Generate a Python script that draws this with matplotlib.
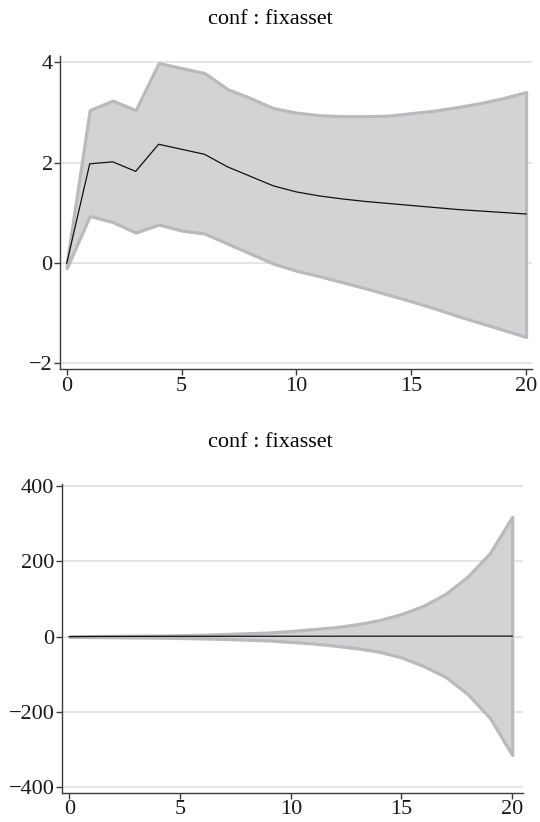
import matplotlib
matplotlib.use("Agg")
import matplotlib.pyplot as plt

steps = list(range(21))

# Panel 1: conf : fixasset (IRF with CI)
irf1 = [0.00, 1.98, 2.02, 1.83, 2.37, 2.27, 2.17, 1.92, 1.73, 1.54, 1.42,
        1.34, 1.28, 1.23, 1.19, 1.15, 1.11, 1.07, 1.04, 1.01, 0.98]
upper1 = [0.00, 3.05, 3.24, 3.05, 3.99, 3.89, 3.79, 3.47, 3.29, 3.09, 3.00,
          2.95, 2.93, 2.93, 2.94, 2.99, 3.04, 3.11, 3.19, 3.29, 3.41]
lower1 = [-0.10, 0.94, 0.82, 0.61, 0.77, 0.65, 0.59, 0.39, 0.19, -0.01, -0.15,
          -0.26, -0.38, -0.50, -0.63, -0.76, -0.90, -1.05, -1.19, -1.33, -1.47]

# Panel 2: conf : fixasset (cumulative-type IRF with CI)
irf2 = [0.0, 0.5, 0.7, 0.8, 0.9, 1.0, 1.0, 1.1, 1.1, 1.2, 1.2,
        1.2, 1.3, 1.3, 1.3, 1.4, 1.4, 1.4, 1.5, 1.5, 1.5]
upper2 = [0.0, 1.5, 2.0, 2.5, 3.0, 4.0, 5.0, 7.0, 9.0, 11.0, 15.0,
          20.0, 25.0, 33.0, 44.0, 60.0, 82.0, 114.0, 160.0, 222.0, 318.0]
lower2 = [0.0, -1.0, -1.5, -2.0, -2.5, -3.5, -4.5, -6.0, -8.0, -10.0, -14.0,
          -18.0, -24.0, -31.0, -40.0, -55.0, -78.0, -107.0, -153.0, -216.0, -314.0]

titles = ["conf : fixasset", "conf : fixasset"]
xticks = [0, 5, 10, 15, 20]
yticks1 = [-2, 0, 2, 4]
yticks2 = [-400, -200, 0, 200, 400]

plt.rcParams['font.family'] = ['Liberation Serif', 'DejaVu Serif']

fig = plt.figure(figsize=(5.4, 8.22), dpi=100)

FILL = '#d2d3d5'
EDGE = '#b9babd'
GRID = '#dedede'
SPINE = '#3c3c3c'
FS = 16


def style(ax, yticks, xlim, ylim):
    ax.set_xlim(*xlim)
    ax.set_ylim(*ylim)
    ax.set_xticks(xticks)
    ax.set_yticks(yticks)
    ax.set_yticklabels([str(v).replace('-', '\u2212') for v in yticks])
    for s in ['top', 'right']:
        ax.spines[s].set_visible(False)
    for s in ['left', 'bottom']:
        ax.spines[s].set_color(SPINE)
        ax.spines[s].set_linewidth(1.0)
    ax.tick_params(axis='both', direction='out', length=4, width=1.0,
                   color=SPINE, labelsize=FS, pad=1.5, labelcolor='#1a1a1a')
    ax.yaxis.grid(True, color=GRID, linewidth=1.1)
    ax.set_axisbelow(True)


ax1 = fig.add_axes([0.1117, 0.5511, 0.874, 0.3808])
ax1.fill_between(steps, lower1, upper1, facecolor=FILL, edgecolor=EDGE,
                 linewidth=2.3, zorder=2)
ax1.plot(steps, irf1, color='#111111', linewidth=0.9, zorder=3)
style(ax1, yticks1, (-0.28, 20.27), (-2.11, 4.13))
fig.text(0.5, 1 - 19 / 822, titles[0], ha='center', va='center', fontsize=FS)

ax2 = fig.add_axes([0.1148, 0.0356, 0.853, 0.3756])
ax2.fill_between(steps, lower2, upper2, facecolor=FILL, edgecolor=EDGE,
                 linewidth=2.3, zorder=2)
ax2.plot(steps, irf2, color='#111111', linewidth=0.9, zorder=3)
style(ax2, yticks2, (-0.33, 20.47), (-414, 405))
fig.text(0.5, 1 - 442 / 822, titles[1], ha='center', va='center', fontsize=FS)

fig.savefig('out.png', dpi=100, facecolor='white')
